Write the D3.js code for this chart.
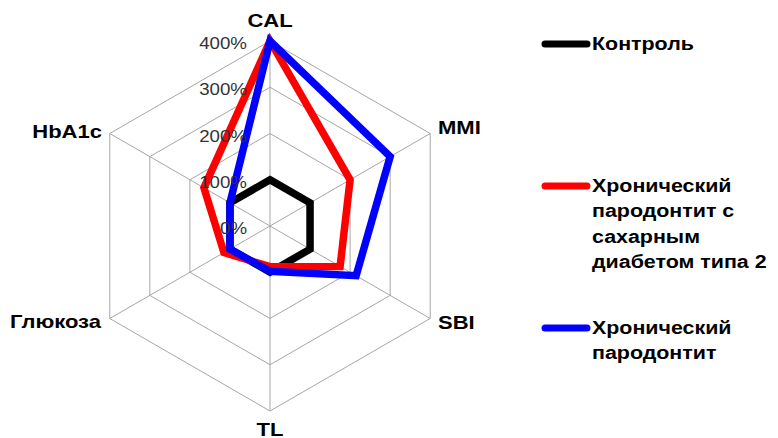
<!DOCTYPE html>
<html lang="ru">
<head>
<meta charset="UTF-8">
<title>Radar chart</title>
<script src="https://cdn.jsdelivr.net/npm/d3@7"></script>
<style>
  body { margin: 0; background: #fff; }
  svg { display: block; font-family: "Liberation Sans", Arial, sans-serif; }
</style>
</head>
<body>
<script>
// data
const categories = ["CAL", "MMI", "SBI", "TL", "Глюкоза", "HbA1c"]
const control = [100, 100, 100, 100, 100, 100]
const diabetes = [400, 200, 175, 88, 115, 165]
const chronic = [400, 300, 215, 98, 100, 100]
const tickValues = [0, 100, 200, 300, 400]
const tickLabels = ["0%", "100%", "200%", "300%", "400%"]
const seriesNames = [["Контроль"], ["Хронический", "пародонтит с", "сахарным", "диабетом типа 2"], ["Хронический", "пародонтит"]]
const seriesColours = ["#000000", "#ff0000", "#0000ff"]

const width = 778, height = 438
const cx = 270, cy = 226
const stretch = 1.19   // text in the original is a bit wide
const svg = d3.select("body").append("svg").attr("width", width).attr("height", height)

const r = d3.scaleLinear().domain([0, 400]).range([0, 185])
const angle = d3.scalePoint().domain(categories).range([0, 2 * Math.PI * 5 / 6])
const pt = (cat, v) => {
    const a = angle(cat)
    return [cx + r(v) * Math.sin(a), cy - r(v) * Math.cos(a)]
}

const g = svg.append("g")

// grid rings
tickValues.filter(v => v > 0).forEach(v => {
    g.append("polygon")
        .attr("points", categories.map(c => pt(c, v).join(",")).join(" "))
        .attr("fill", "none")
        .attr("stroke", "#a6a6a6")
        .attr("stroke-width", 1)
})
// spokes
g.selectAll("line.spoke")
    .data(categories)
    .enter().append("line")
    .attr("class", "spoke")
    .attr("x1", cx).attr("y1", cy)
    .attr("x2", d => pt(d, 400)[0])
    .attr("y2", d => pt(d, 400)[1])
    .attr("stroke", "#a6a6a6")
    .attr("stroke-width", 1)

// series
const line = d3.line().curve(d3.curveLinearClosed)
const allSeries = [control, diabetes, chronic]
allSeries.forEach((vals, i) => {
    g.append("path")
        .attr("d", line(categories.map((c, j) => pt(c, vals[j]))))
        .attr("fill", "none")
        .attr("stroke", seriesColours[i])
        .attr("stroke-width", 7.5)
        .attr("stroke-linejoin", "miter")
})

// tick labels
g.selectAll("text.tick")
    .data(tickValues)
    .enter().append("text")
    .attr("class", "tick")
    .attr("transform", d => `translate(247,${cy - r(d) + 8}) scale(1.1,1)`)
    .attr("text-anchor", "end")
    .attr("font-size", 17)
    .attr("fill", "#333")
    .text((d, i) => tickLabels[i])

// category labels
const labelPos = {
    "CAL": [270, 26.5, "middle"],
    "MMI": [438, 134, "start"],
    "SBI": [438, 329, "start"],
    "TL": [270, 436, "middle"],
    "Глюкоза": [101, 328, "end"],
    "HbA1c": [102, 138, "end"]
}
categories.forEach(c => {
    const p = labelPos[c]
    svg.append("text")
        .attr("transform", `translate(${p[0]},${p[1]}) scale(${stretch},1)`)
        .attr("text-anchor", p[2])
        .attr("font-size", 18.5)
        .attr("font-weight", "bold")
        .attr("fill", "#000")
        .text(c)
})

// legend
const legendY = [44, 186, 328]
const legend = svg.append("g")
seriesNames.forEach((lines, i) => {
    legend.append("line")
        .attr("x1", 545).attr("x2", 587)
        .attr("y1", legendY[i]).attr("y2", legendY[i])
        .attr("stroke", seriesColours[i])
        .attr("stroke-width", 7)
        .attr("stroke-linecap", "round")
    const t = legend.append("text")
        .attr("transform", `translate(592,${legendY[i] + 6}) scale(${stretch},1)`)
        .attr("font-size", 18)
        .attr("font-weight", "bold")
        .attr("fill", "#000")
    lines.forEach((s, k) => {
        t.append("tspan").attr("x", 0).attr("dy", k === 0 ? 0 : 25.5).text(s)
    })
})
</script>
</body>
</html>
